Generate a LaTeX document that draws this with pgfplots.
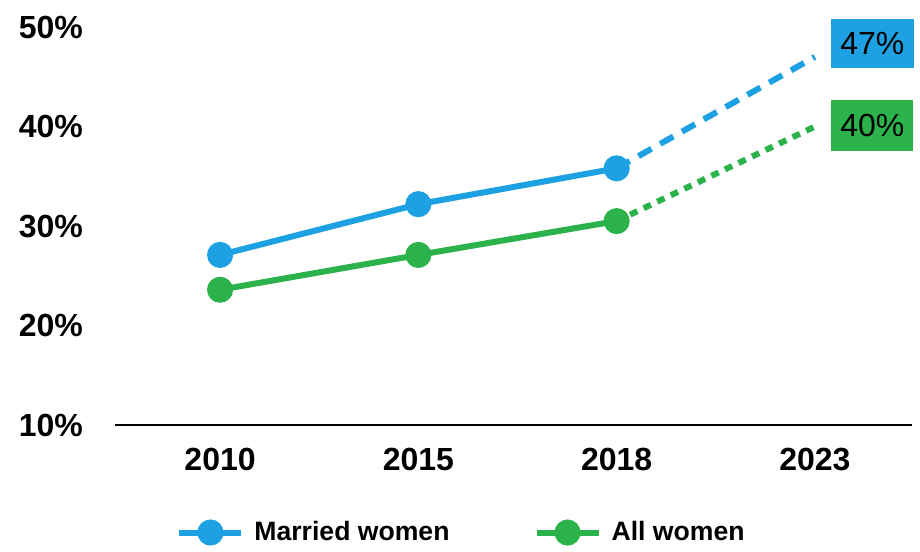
\documentclass[border=0pt]{standalone}
\usepackage{pgfplots}
\pgfplotsset{compat=1.18}
\usepackage{fontspec}
\setmainfont{Liberation Sans}

\definecolor{mblue}{RGB}{29,161,226}
\definecolor{mgreen}{RGB}{44,178,75}

\begin{document}
\begin{tikzpicture}
\begin{axis}[
    scale only axis,
    width=398.5pt, height=199pt,
    xmin=-0.53, xmax=3.49,
    ymin=10, ymax=50,
    clip=false,
    axis x line*=bottom,
    axis y line*=left,
    y axis line style={draw=none},
    x axis line style={line width=1pt, black},
    xtick={0,1,2,3},
    xticklabels={2010,2015,2018,2023},
    ytick={10,20,30,40,50},
    yticklabels={10\%,20\%,30\%,40\%,50\%},
    tick style={draw=none},
    ticklabel style={font=\fontsize{16}{19}\selectfont\bfseries},
    yticklabel style={xshift=-12.5pt},
    xticklabel style={yshift=-8pt},
    legend style={at={(0.436,-0.27)}, anchor=center, draw=none,
        font=\fontsize{13.3}{16}\selectfont\bfseries,
        legend columns=2,
        /tikz/every odd column/.append style={column sep=3pt},
        /tikz/every even column/.append style={column sep=40pt}},
    legend image code/.code={\draw[mark repeat=2,mark phase=2] plot coordinates {(0pt,0pt) (15.5pt,0pt) (31pt,0pt)};},
]
\path (rel axis cs:-0.1443,-0.3015) rectangle (rel axis cs:1.010,1.068);

\addplot[mblue, line width=3pt, mark=*, mark size=5pt] coordinates {
    (0,27.1) (1,32.2) (2,35.8)
};
\addlegendentry{Married women}
\addplot[mgreen, line width=3pt, mark=*, mark size=5pt] coordinates {
    (0,23.6) (1,27.1) (2,30.5)
};
\addlegendentry{All women}

\addplot[mblue, line width=3pt, dash pattern=on 7.5pt off 5pt, forget plot] coordinates {
    (2,35.8) (3,47)
};
\addplot[mgreen, line width=3pt, dash pattern=on 4pt off 3.5pt, forget plot] coordinates {
    (2,30.5) (3,40)
};

\node[fill=mblue, text=black, minimum width=41.5pt, minimum height=24.5pt, inner sep=0pt,
      font=\fontsize{16}{19}\selectfont] at (axis cs:3.29,48.3) {47\%};
\node[fill=mgreen, text=black, minimum width=41pt, minimum height=25.5pt, inner sep=0pt,
      font=\fontsize{16}{19}\selectfont] at (axis cs:3.29,40.15) {40\%};
\end{axis}
\end{tikzpicture}
\end{document}
